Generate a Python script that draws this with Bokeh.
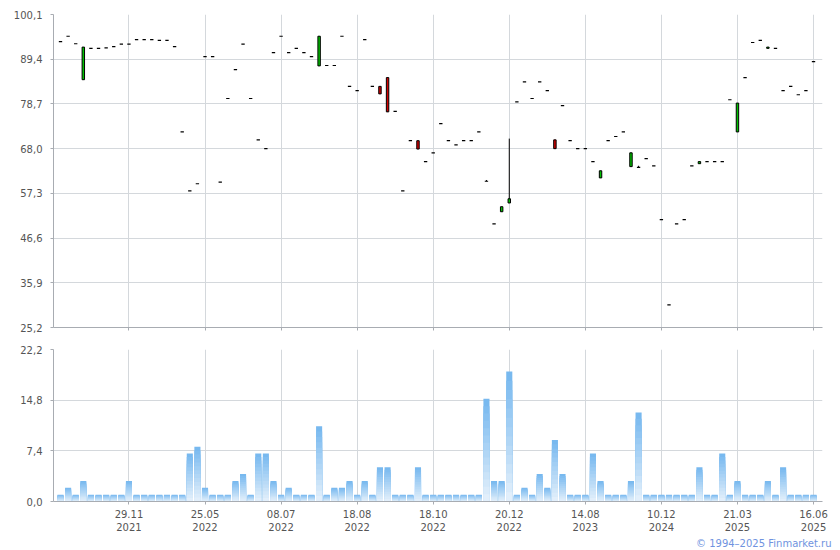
from bokeh.plotting import figure
from bokeh.layouts import column
from bokeh.models import Range1d, FixedTicker, Title, ColumnDataSource
from bokeh.embed import file_html
from bokeh.resources import INLINE

# ---------------- data ----------------
opens = [93.6, 94.9, 93.1, 84.5, 92.0, 92.0, 92.1, 92.4, 93.0, 93.0,
         94.1, 94.1, 94.1, 93.9, 93.9, 92.4, 72.0, 57.9, 59.6, 90.0,
         90.0, 60.0, 80.0, 86.9, 93.0, 80.0, 70.1, 68.0, 91.0, 94.9,
         91.0, 92.0, 91.0, 90.0, 87.8, 87.9, 87.9, 94.9, 82.9, 81.9,
         94.1, 82.9, 82.9, 85.0, 76.9, 57.9, 69.9, 69.9, 64.9, 67.0,
         74.0, 69.9, 68.9, 69.9, 69.9, 72.0, 60.2, 50.0, 52.9, 55.0,
         79.2, 84.0, 80.0, 84.0, 81.9, 70.1, 78.3, 69.9, 68.0, 68.0,
         64.9, 61.0, 69.9, 70.9, 72.0, 63.7, 63.5, 65.6, 63.9, 51.0,
         30.6, 50.0, 51.0, 63.9, 64.4, 64.9, 64.9, 64.9, 79.7, 72.0,
         85.0, 93.4, 93.9, 92.0, 92.0, 81.9, 82.9, 80.9, 81.9, 88.8]
closes = [93.6, 94.9, 93.1, 92.3, 92.0, 92.0, 92.1, 92.4, 93.0, 93.0,
          94.1, 94.1, 94.1, 93.9, 93.9, 92.4, 72.0, 57.9, 59.6, 90.0,
          90.0, 60.0, 80.0, 86.9, 93.0, 80.0, 70.1, 68.0, 91.0, 94.9,
          91.0, 92.0, 91.0, 90.0, 94.9, 87.9, 87.9, 94.9, 82.9, 81.9,
          94.1, 82.9, 81.1, 76.8, 76.9, 57.9, 69.9, 67.9, 64.9, 67.0,
          74.0, 69.9, 68.9, 69.9, 69.9, 72.0, 60.2, 50.0, 54.1, 56.0,
          79.2, 84.0, 80.0, 84.0, 81.9, 68.0, 78.3, 69.9, 68.0, 68.0,
          64.9, 62.7, 69.9, 70.9, 72.0, 67.0, 63.5, 65.6, 63.9, 51.0,
          30.6, 50.0, 51.0, 63.9, 64.9, 64.9, 64.9, 64.9, 79.7, 78.9,
          85.0, 93.4, 93.9, 92.3, 92.0, 81.9, 82.9, 80.9, 81.9, 88.8]
highs = [max(o, c) for o, c in zip(opens, closes)]
highs[56] = 60.5
highs[59] = 70.4
highs[76] = 63.9
lows = [min(o, c) for o, c in zip(opens, closes)]

volumes = [1, 2, 1, 3, 1, 1, 1, 1, 1, 3,
           1, 1, 1, 1, 1, 1, 1, 7, 8, 2,
           1, 1, 1, 3, 4, 1, 7, 7, 3, 1,
           2, 1, 1, 1, 11, 1, 2, 2, 3, 1,
           3, 1, 5, 5, 1, 1, 1, 5, 1, 1,
           1, 1, 1, 1, 1, 1, 15, 3, 3, 19,
           1, 2, 1, 4, 2, 9, 4, 1, 1, 1,
           7, 3, 1, 1, 1, 3, 13, 1, 1, 1,
           1, 1, 1, 1, 5, 1, 1, 7, 1, 3,
           1, 1, 1, 3, 1, 5, 1, 1, 1, 1]

x_tick_pos = [9, 19, 29, 39, 49, 59, 69, 79, 89, 99]
x_tick_labels = ["29.11\n2021", "25.05\n2022", "08.07\n2022", "18.08\n2022",
                 "18.10\n2022", "20.12\n2022", "14.08\n2023", "10.12\n2024",
                 "21.03\n2025", "16.06\n2025"]
price_ticks = [25.2, 35.9, 46.6, 57.3, 68.0, 78.7, 89.4, 100.1]
vol_ticks = [0.0, 7.4, 14.8, 22.2]
copyright_text = "© 1994–2025 Finmarket.ru"

# ---------------- style ----------------
FONT = "DejaVu Sans"
LABEL_COLOR = "#555555"
AXIS_COLOR = "#a8acb2"
GRID_COLOR = "#d4d8dc"
UP = "#00c000"
DOWN = "#d40000"

idx = list(range(len(opens)))
xr = Range1d(-0.92, 100.18)

W = 832
LEFT = 53
RIGHT = 10
P1_BOTTOM = 16


def style(p, yticks):
    p.outline_line_color = None
    p.xgrid.grid_line_color = GRID_COLOR
    p.ygrid.grid_line_color = GRID_COLOR
    p.xaxis.ticker = FixedTicker(ticks=x_tick_pos)
    p.yaxis.ticker = FixedTicker(ticks=yticks)
    p.yaxis.major_label_overrides = {t: ("%.1f" % t).replace(".", ",") for t in yticks}
    for ax in (p.xaxis, p.yaxis):
        ax.axis_line_color = AXIS_COLOR
        ax.major_tick_line_color = AXIS_COLOR
        ax.minor_tick_line_color = None
        ax.major_tick_in = 0
        ax.major_tick_out = 3
        ax.major_label_text_font = FONT
        ax.major_label_text_font_size = "10px"
        ax.major_label_text_color = LABEL_COLOR
    p.yaxis.major_label_standoff = 8


# ---------------- price panel ----------------
p1 = figure(width=W, height=14 + 313 + P1_BOTTOM, x_range=xr, y_range=Range1d(25.2, 100.1),
            output_backend="svg", toolbar_location=None,
            min_border_left=LEFT, min_border_right=RIGHT, min_border_top=14,
            min_border_bottom=P1_BOTTOM)
style(p1, price_ticks)
p1.xaxis.major_label_overrides = {t: "" for t in x_tick_pos}
p1.xaxis.major_label_standoff = 0

p1.segment(x0=idx, y0=lows, x1=idx, y1=highs, line_color="black", line_width=1)

body_w = 0.32
cand = [i for i in idx if opens[i] != closes[i]]
doji = [i for i in idx if opens[i] == closes[i]]
src_c = ColumnDataSource(dict(
    x=cand,
    top=[max(opens[i], closes[i]) for i in cand],
    bottom=[min(opens[i], closes[i]) for i in cand],
    color=[UP if closes[i] > opens[i] else DOWN for i in cand],
))
p1.vbar(x="x", width=body_w, top="top", bottom="bottom", source=src_c,
        fill_color="color", line_color="black", line_width=1)
p1.segment(x0=[i - 0.22 for i in doji], y0=[closes[i] for i in doji],
           x1=[i + 0.22 for i in doji], y1=[closes[i] for i in doji],
           line_color="black", line_width=1.2)

# ---------------- volume panel ----------------
P2_TOP = 22 - P1_BOTTOM
P2_H = 550 - (14 + 313 + P1_BOTTOM)
p2 = figure(width=W, height=P2_H, x_range=xr, y_range=Range1d(0, 22.2),
            output_backend="svg", toolbar_location=None,
            min_border_left=LEFT, min_border_right=RIGHT, min_border_top=P2_TOP,
            min_border_bottom=P2_H - P2_TOP - 152)
style(p2, vol_ticks)
p2.xaxis.major_label_overrides = dict(zip(x_tick_pos, x_tick_labels))
p2.xaxis.major_label_standoff = 4

# vertical gradient per bar: nested bars, darkest (full height) drawn first
N = 14
c_top = (0x78, 0xb9, 0xef)
c_bot = (0xe2, 0xef, 0xfb)
for k in range(N):
    frac = (N - k) / N
    t = k / (N - 1)
    col = "#%02x%02x%02x" % tuple(int(round(a + (b - a) * t)) for a, b in zip(c_top, c_bot))
    p2.vbar(x=idx, width=0.8, bottom=0, top=[v * frac for v in volumes],
            fill_color=col, line_color=None)

p2.add_layout(Title(text=copyright_text, align="right", offset=-9, standoff=0,
                    text_font=FONT, text_font_size="10px", text_font_style="normal",
                    text_color="#6f93e0"), "below")

layout = column(p1, p2, spacing=0)
open("out.html", "w").write(file_html(layout, INLINE))
